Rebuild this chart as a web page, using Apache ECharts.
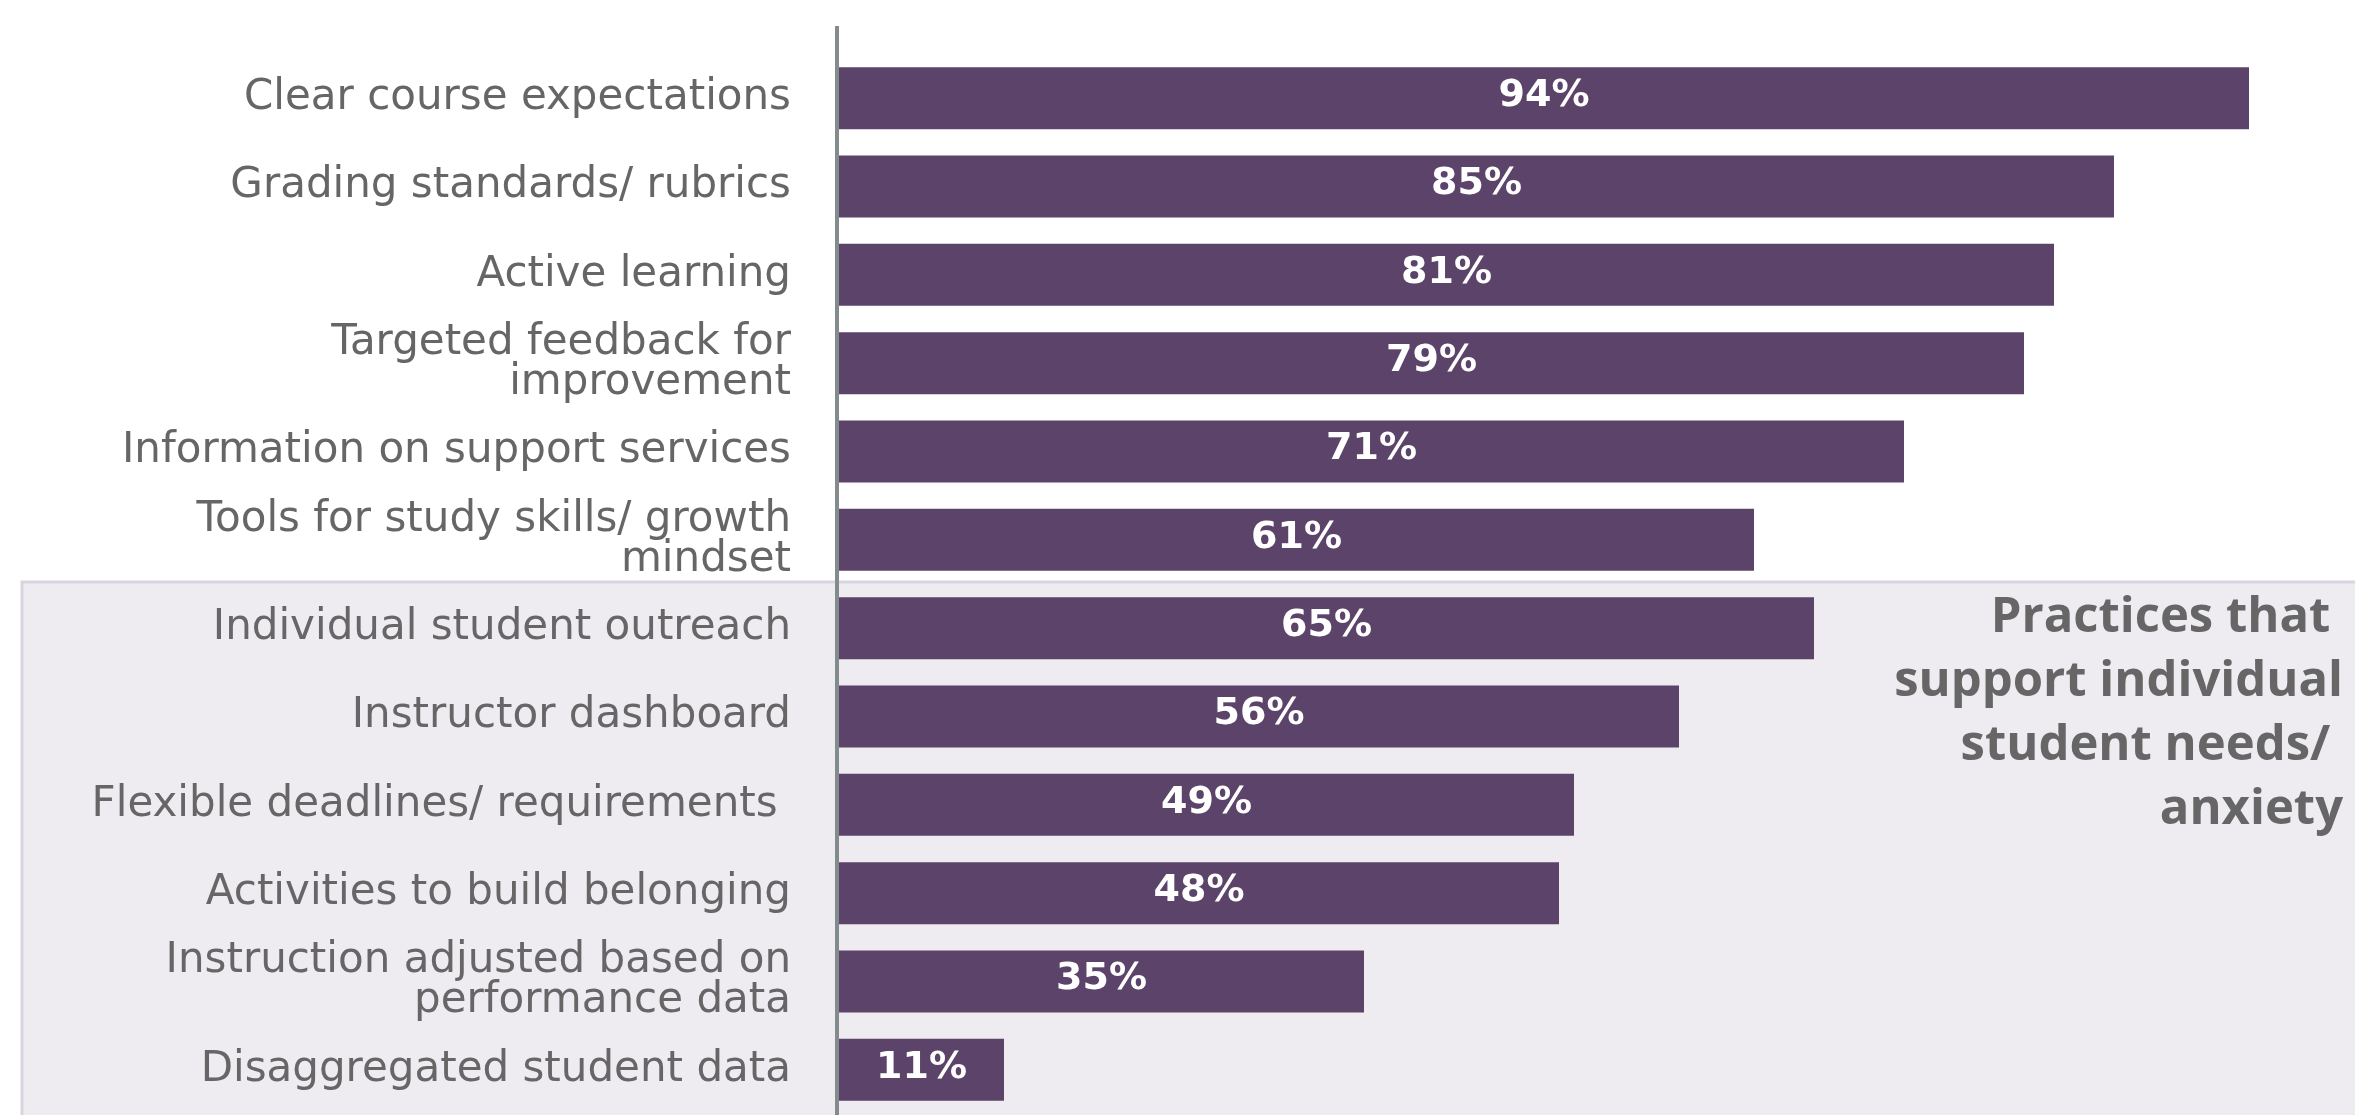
<!DOCTYPE html>
<html>
<head>
<meta charset="utf-8">
<script src="https://cdn.jsdelivr.net/npm/echarts@6/dist/echarts.min.js"></script>
<style>
  html, body { margin: 0; padding: 0; background: #ffffff; }
  #chart { width: 2355px; height: 1115px; }
</style>
</head>
<body>
<div id="chart"></div>
<script>
// Survey practices, top to bottom
const practices = [
  'Clear course expectations',
  'Grading standards/ rubrics',
  'Active learning',
  'Targeted feedback for\nimprovement',
  'Information on support services',
  'Tools for study skills/ growth\nmindset',
  'Individual student outreach',
  'Instructor dashboard',
  'Flexible deadlines/ requirements ',
  'Activities to build belonging',
  'Instruction adjusted based on\nperformance data',
  'Disaggregated student data'
];

// Share of respondents (%)
const shares = [94, 85, 81, 79, 71, 61, 65, 56, 49, 48, 35, 11];

// Callout for the shaded group of practices
const groupNote = 'Practices that \nsupport individual\nstudent needs/ \nanxiety';

const W = 2355, H = 1115;
const chart = echarts.init(document.getElementById('chart'), null, { renderer: 'canvas' });

chart.setOption({
  animation: false,
  backgroundColor: '#ffffff',
  grid: { left: 839, right: W - 2339, top: 54, bottom: 1, containLabel: false },
  xAxis: {
    type: 'value', min: 0, max: 100,
    show: false
  },
  yAxis: {
    type: 'category',
    data: practices,
    inverse: true,
    axisLine: { show: false },
    axisTick: { show: false },
    splitLine: { show: false },
    axisLabel: {
      margin: 48,
      color: '#666666',
      fontFamily: 'DejaVu Sans',
      fontSize: 42,
      lineHeight: 40,
      align: 'right'
    }
  },
  series: [{
    type: 'bar',
    data: shares,
    barWidth: 62,
    itemStyle: { color: '#5c4369' },
    label: {
      show: true,
      position: 'inside',
      offset: [0, -2],
      formatter: '{c}%',
      color: '#ffffff',
      fontFamily: 'DejaVu Sans',
      fontWeight: 700,
      fontSize: 38
    },
    z: 3
  }],
  graphic: [
    {
      type: 'rect',
      z: -10,
      shape: { x: 22, y: 582, width: W, height: H },
      style: { fill: '#eeebf1', stroke: '#d9d5de', lineWidth: 3 }
    },
    {
      type: 'rect',
      z: 20,
      shape: { x: 835, y: 26, width: 4, height: H },
      style: { fill: '#838c8c' }
    },
    {
      type: 'text',
      z: 20,
      x: 2343,
      y: 586,
      style: {
        text: groupNote,
        align: 'right',
        verticalAlign: 'top',
        fill: '#666666',
        font: '700 49px "Open Sans"',
        lineHeight: 64
      }
    }
  ]
});
</script>
</body>
</html>
